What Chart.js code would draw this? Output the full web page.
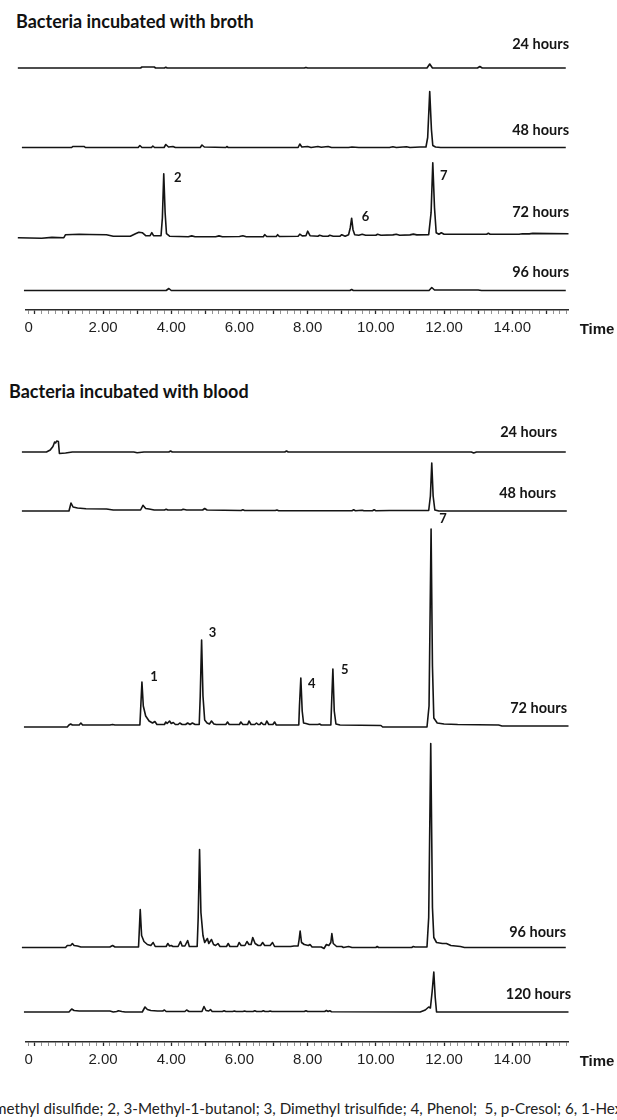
<!DOCTYPE html>
<html>
<head>
<meta charset="utf-8">
<title>Chromatograms</title>
<script src="https://cdn.jsdelivr.net/npm/chart.js@4.4.1/dist/chart.umd.min.js"></script>
<style>
  html, body { margin: 0; padding: 0; background: #fff; }
  body { position: relative; width: 617px; height: 1120px; overflow: hidden; }
  canvas { position: absolute; left: 0; }
  .title { position: absolute; font: bold 18px Lato, sans-serif; color: #111; white-space: nowrap; line-height: 22px; }
  .caption { position: absolute; font: 15.2px Lato, sans-serif; color: #222; white-space: pre; line-height: 18px; }
</style>
</head>
<body>
<div class="title" style="left:16px;top:10px">Bacteria incubated with broth</div>
<canvas id="brothChart" width="617" height="345" style="top:0"></canvas>
<div class="title" style="left:9px;top:380px">Bacteria incubated with blood</div>
<canvas id="bloodChart" width="617" height="725" style="top:360px"></canvas>
<div class="caption" style="left:-6px;top:1099px">methyl disulfide; 2, 3-Methyl-1-butanol; 3, Dimethyl trisulfide; 4, Phenol;  5, p-Cresol; 6, 1-Hex</div>
<script>
// retention time axis (min)
const timeLabels = [0, 2, 4, 6, 8, 10, 12, 14];
const timeMin = -0.26, timeMax = 15.65;

const brothHours = ['24 hours', '48 hours', '72 hours', '96 hours'];
const bloodHours = ['24 hours', '48 hours', '72 hours', '96 hours', '120 hours'];

// numbered compounds and where they elute
const brothPeakIds = ['2', '6', '7'];
const brothPeakTimes = [3.78, 9.29, 11.67];
const bloodPeakIds = ['1', '3', '4', '5', '7'];
const bloodPeakTimes = [3.14, 4.89, 7.80, 8.74, 11.62];

// traces as [time, signal above baseline]
const broth24h = [[-0.5,0],[3.10,0],[3.14,1],[3.50,1],[3.54,0],[3.80,0],[3.84,0.8],[3.88,0],[7.90,0],[7.95,0.6],[8.00,0],
  [11.50,0],[11.58,4],[11.66,0],[12.98,0],[13.05,1.5],[13.12,0],[15.57,0]];
const broth48h = [[-0.38,0],[1.08,0],[1.11,1],[1.45,1],[1.48,0],[3.03,0],[3.08,2],[3.14,0],[3.42,0],[3.46,1.5],[3.51,0],
  [3.79,0],[3.84,3],[3.92,0.5],[4.05,1],[4.12,0],[4.85,0],[4.90,2.5],[4.97,0.5],[5.60,0],[5.63,1],[5.67,0],[7.72,0],
  [7.77,3.5],[7.83,0.5],[8.00,1],[8.10,0],[8.30,1],[8.40,0.3],[8.60,1],[8.70,0],[9.20,0],[9.30,0.5],[9.50,0],[10.40,0],
  [10.50,0.7],[10.60,0],[10.90,0.8],[11.00,0],[11.30,0.5],[11.47,0.5],[11.52,10],[11.58,56],[11.63,18],[11.67,2],
  [11.75,0.5],[11.90,0],[15.57,0]];
const broth72h = [[-0.5,0],[0.2,-0.5],[0.5,0.3],[0.85,0],[0.9,3],[1.3,3.5],[1.6,3.2],[2.1,3],[2.3,1.5],[2.8,1.5],[2.95,4],
  [3.05,5.5],[3.15,5],[3.25,2],[3.38,2],[3.43,5],[3.48,2],[3.70,2],[3.74,20],[3.78,64],[3.82,25],[3.86,4],[3.95,1.5],
  [4.5,1],[4.6,1.8],[4.7,1],[5.3,1],[5.4,1.8],[5.5,1],[6.0,1.2],[6.1,2],[6.2,1],[6.7,1],[6.74,3],[6.8,1.2],[7.08,1.2],
  [7.12,3],[7.17,1.2],[7.72,1.5],[7.77,3.5],[7.84,1.8],[7.95,2],[8.0,6.5],[8.07,2],[8.3,1.5],[8.35,2.5],[8.45,1.5],
  [8.6,1.5],[8.65,2.5],[8.75,1.5],[8.95,1.5],[9.0,3],[9.1,1.5],[9.2,3],[9.25,10],[9.29,19.5],[9.33,8],[9.38,3],[9.5,2.5],
  [9.6,3.5],[9.7,2.5],[10.0,2.5],[10.05,3.5],[10.15,2.5],[10.5,2.8],[10.6,3.5],[10.7,2.5],[11.0,2.8],[11.1,3.6],[11.2,2.8],
  [11.55,3],[11.62,25],[11.67,75],[11.72,30],[11.77,5],[11.85,3.5],[11.92,5],[12.0,3.5],[13.25,3.5],[13.3,4.5],[13.35,3.5],
  [14.2,3.5],[14.3,4],[14.5,3.8],[14.6,4.3],[15.65,4]];
const broth96h = [[-0.32,0],[3.85,0],[3.93,2],[4.0,0],[9.24,0],[9.29,1],[9.34,0],[11.56,0],[11.64,3],[11.72,0.5],
  [13.0,0.5],[13.1,0],[15.57,0]];

const blood24h = [[-0.38,0],[0.34,0],[0.45,2],[0.53,5.5],[0.58,10],[0.61,9],[0.64,11],[0.69,10.5],[0.72,-1.5],[0.9,-1],
  [1.1,0],[2.9,0],[3.0,-0.8],[3.2,0],[3.93,0],[3.98,1],[4.03,0],[7.33,0],[7.38,1],[7.43,0],[12.8,0],[12.87,-1],[12.95,0],[15.57,0]];
const blood48h = [[-0.38,0],[1.0,0],[1.06,8],[1.12,4],[1.25,3],[1.5,2.3],[2.1,2],[2.3,1],[3.1,1],[3.17,5.7],[3.25,2.5],
  [3.35,2],[3.5,1],[3.8,1],[3.85,1.8],[3.9,1],[4.3,1],[4.35,1.8],[4.45,1],[4.92,1],[4.98,2.5],[5.05,1],[6.05,0.5],[6.1,1.2],
  [6.15,0.5],[7.05,0.5],[7.1,1],[7.15,0.3],[9.3,0.3],[9.35,1.2],[9.4,0.3],[9.6,0.8],[9.65,0.2],[9.9,0.3],[9.95,1.2],[10.0,0.3],
  [10.4,0.5],[11.55,0.5],[11.6,15],[11.64,48],[11.68,15],[11.73,1],[11.85,0],[15.6,0]];
const blood72h = [[-0.32,-1],[0.95,-1],[1.0,1],[1.05,2],[1.1,1],[1.3,1],[1.35,3],[1.4,1],[2.2,1],[2.28,1.5],[2.35,1],
  [3.08,1],[3.1,15],[3.14,44],[3.18,20],[3.25,10],[3.35,5],[3.45,3],[3.52,4.5],[3.58,1.5],[3.8,1.5],[3.84,4],[3.88,2.5],
  [3.95,5],[4.0,2.5],[4.06,3.5],[4.12,1.5],[4.2,1.5],[4.25,3],[4.32,1.5],[4.42,1.5],[4.48,3],[4.55,1.5],[4.62,3],[4.7,1.5],
  [4.82,1.5],[4.85,30],[4.89,86],[4.93,30],[4.98,6],[5.05,3],[5.12,2],[5.18,5],[5.25,2],[5.32,1.5],[5.6,1.5],[5.65,4],
  [5.7,1.5],[6.0,1.5],[6.04,4],[6.1,1.5],[6.24,1.5],[6.28,5],[6.34,1.5],[6.45,1.5],[6.5,3],[6.55,1.5],[6.6,1.5],[6.64,3.5],
  [6.7,1.5],[6.76,1.5],[6.8,5],[6.86,1.5],[6.98,1.5],[7.03,4],[7.08,1],[7.74,1],[7.76,20],[7.8,48],[7.84,15],[7.88,3],
  [7.95,2.5],[8.05,1.5],[8.3,1.5],[8.35,2],[8.4,1],[8.68,1],[8.7,20],[8.74,57],[8.78,15],[8.83,2],[8.95,1],[10.15,0.5],
  [10.2,-1],[11.5,-1],[11.56,20],[11.62,197],[11.66,60],[11.7,8],[11.8,3],[12.0,2],[12.4,1.5],[13.6,1],[13.7,0],[15.65,0]];
const blood96h = [[-0.38,0],[0.9,0],[0.95,2],[1.05,2],[1.1,4],[1.15,2],[1.25,1.5],[1.35,0.5],[2.2,0.5],[2.28,2],[2.35,0.5],
  [3.04,0.5],[3.06,15],[3.09,38],[3.13,12],[3.2,6],[3.3,3],[3.4,2],[3.47,5],[3.53,1],[3.85,1],[3.9,4],[3.95,1.5],[4.0,2],
  [4.05,1],[4.2,1],[4.27,6],[4.32,1.5],[4.4,1.5],[4.48,7],[4.53,1],[4.76,1],[4.79,30],[4.83,98],[4.87,35],[4.93,12],[4.98,5],
  [5.06,9],[5.1,4],[5.18,8],[5.24,3],[5.3,2],[5.37,4],[5.43,1],[5.62,1],[5.67,4],[5.72,1],[5.94,1],[5.99,5],[6.05,2],[6.16,2],
  [6.22,6],[6.28,3],[6.34,3],[6.39,10],[6.46,4],[6.55,2],[6.62,2],[6.68,5],[6.74,2],[6.9,2],[6.97,5],[7.03,1],[7.5,1],
  [7.6,1.5],[7.72,1.5],[7.75,8],[7.78,16.5],[7.82,5],[7.9,3],[8.02,2],[8.07,3],[8.13,0.5],[8.4,0.5],[8.48,-1],[8.55,3],
  [8.62,2],[8.68,5],[8.71,14],[8.75,4],[8.85,1],[9.0,1],[9.05,0],[9.2,1],[9.3,0],[10.0,0],[10.04,1],[10.08,0],[11.05,0],
  [11.1,1],[11.15,0.5],[11.5,0.5],[11.55,30],[11.61,204],[11.66,40],[11.7,10],[11.78,5],[11.95,4],[12.07,4],[12.2,2],
  [12.48,1],[12.6,0],[15.57,0]];
const blood120h = [[-0.32,0],[1.0,0],[1.08,3],[1.15,1.5],[1.3,1],[2.2,1],[2.3,0],[2.4,0.5],[2.45,1.2],[2.55,0.5],[2.65,0],
  [3.15,0],[3.23,5],[3.3,2.5],[3.4,1.5],[3.6,1],[3.75,1],[3.8,2],[3.85,0.5],[4.4,0.5],[4.45,2],[4.52,0.5],[4.9,0.5],
  [4.96,5.5],[5.02,1.5],[5.1,1],[5.15,2.5],[5.2,0.5],[5.5,0.5],[5.55,1.2],[5.6,0.5],[5.8,0.5],[5.85,1],[5.9,0.5],[6.1,0.5],
  [6.15,1],[6.2,0.5],[6.4,0.5],[6.45,1.2],[6.5,0.5],[6.65,0.5],[6.7,1.2],[6.75,0.5],[6.85,0.5],[6.9,1],[6.95,0.5],[7.9,0.5],
  [7.95,1.3],[8.0,0.5],[8.5,0.5],[8.55,1.5],[8.6,0.5],[8.65,1.2],[8.7,0.3],[11.3,0],[11.45,2],[11.55,5],[11.6,4],[11.65,20],
  [11.7,40],[11.74,15],[11.78,0],[15.65,0]];

// page layout: each trace gets its own stacked y axis band (pixels on the page)
const brothLayout = {
  canvasTop: 0, axisHeight: 35,
  rows: [
    { top: 36, base: 68, bottom: 90, labelRight: 569, lift: 24 },
    { top: 90, base: 147.5, bottom: 160, labelRight: 569, lift: 17.5 },
    { top: 160, base: 237.7, bottom: 264, labelRight: 569, lift: 25.5 },
    { top: 264, base: 290.5, bottom: 310, labelRight: 569, lift: 18.5 }
  ],
  peakOffsets: [[14, 4], [14, -1], [11, 13]]
};
const bloodLayout = {
  canvasTop: 360, axisHeight: 43,
  rows: [
    { top: 418, base: 452, bottom: 482, labelRight: 557, lift: 20 },
    { top: 482, base: 511, bottom: 520, labelRight: 556, lift: 18 },
    { top: 520, base: 726, bottom: 736, labelRight: 567, lift: 18 },
    { top: 736, base: 947.5, bottom: 956, labelRight: 566, lift: 15.5 },
    { top: 956, base: 1012, bottom: 1042, labelRight: 571, lift: 18 }
  ],
  peakOffsets: [[12, -5], [11, -7], [11, 6], [12, 1], [12, -10]]
};

const isMajor = v => Math.abs(v - Math.round(v)) < 1e-6;
const tickText = v => {
  const l = timeLabels.find(t => Math.abs(t - v) < 1e-6);
  if (l === undefined) return '';
  // the zero sits a little left of its tick in the original
  return l === 0 ? '0   ' : l.toFixed(2);
};

const labelPlugin = {
  id: 'traceLabels',
  afterDatasetsDraw(chart, args, opts) {
    const ctx = chart.ctx;
    const x = chart.scales.x;
    ctx.save();
    ctx.fillStyle = '#151515';
    ctx.textBaseline = 'middle';

    // hours labels
    ctx.font = 'bold 14.5px Lato, sans-serif';
    ctx.textAlign = 'right';
    opts.rows.forEach((r, i) => {
      const y = chart.scales['y' + i].getPixelForValue(0) - r.lift;
      ctx.fillText(opts.hours[i], r.labelRight, y);
    });

    // compound numbers next to the peaks of the 72 h trace
    const ds = chart.data.datasets[2].data;
    ctx.font = 'bold 13px Lato, sans-serif';
    ctx.textAlign = 'center';
    opts.peakIds.forEach((id, k) => {
      const t = opts.peakTimes[k];
      let apex = 0;
      ds.forEach(p => { if (Math.abs(p.x - t) < 0.06 && p.y > apex) apex = p.y; });
      const [dx, dy] = opts.offsets[k];
      ctx.fillText(id, x.getPixelForValue(t) + dx, chart.scales.y2.getPixelForValue(apex) + dy);
    });

    ctx.font = "bold 15px 'Liberation Sans', Arial, sans-serif";
    ctx.fillText('Time', 597, x.top + 20);
    ctx.restore();
  }
};

function drawPanel(id, traces, hours, peakIds, peakTimes, layout) {
  const rows = layout.rows;
  const scales = {
    x: {
      type: 'linear', position: 'bottom', min: timeMin, max: timeMax,
      afterFit: s => { s.height = layout.axisHeight; },
      border: { display: true, color: '#2a2a2a', width: 1.5 },
      grid: {
        drawOnChartArea: false, drawTicks: true, tickLength: 4,
        tickColor: c => isMajor(c.tick.value) ? '#2a2a2a' : '#777',
        tickWidth: c => isMajor(c.tick.value) ? 1.3 : 0.8
      },
      ticks: {
        stepSize: 0.2, includeBounds: false, autoSkip: false, maxRotation: 0, minRotation: 0,
        padding: 5, color: '#1e1e1e',
        font: { family: "'Liberation Sans', Arial, sans-serif", size: 15 },
        callback: v => tickText(v)
      }
    }
  };
  rows.forEach((r, i) => {
    scales['y' + i] = {
      type: 'linear', display: false, position: 'left', stack: 'traces',
      stackWeight: r.bottom - r.top, weight: rows.length - i,
      min: -(r.bottom - r.base), max: r.base - r.top
    };
  });

  new Chart(document.getElementById(id), {
    type: 'line',
    data: {
      datasets: traces.map((tr, i) => ({
        data: tr.map(p => ({ x: p[0], y: p[1] })),
        yAxisID: 'y' + i,
        borderColor: '#141414',
        borderWidth: 1.6,
        borderJoinStyle: 'round',
        pointRadius: 0,
        tension: 0,
        fill: false,
        clip: false
      }))
    },
    options: {
      responsive: false,
      animation: false,
      events: [],
      layout: { padding: { top: rows[0].top - layout.canvasTop, left: 26, right: 48.5, bottom: 0 } },
      scales: scales,
      plugins: {
        legend: { display: false },
        tooltip: { enabled: false },
        traceLabels: { rows: rows, hours: hours, peakIds: peakIds, peakTimes: peakTimes, offsets: layout.peakOffsets }
      }
    },
    plugins: [labelPlugin]
  });
}

drawPanel('brothChart', [broth24h, broth48h, broth72h, broth96h], brothHours, brothPeakIds, brothPeakTimes, brothLayout);
drawPanel('bloodChart', [blood24h, blood48h, blood72h, blood96h, blood120h], bloodHours, bloodPeakIds, bloodPeakTimes, bloodLayout);
</script>
</body>
</html>
